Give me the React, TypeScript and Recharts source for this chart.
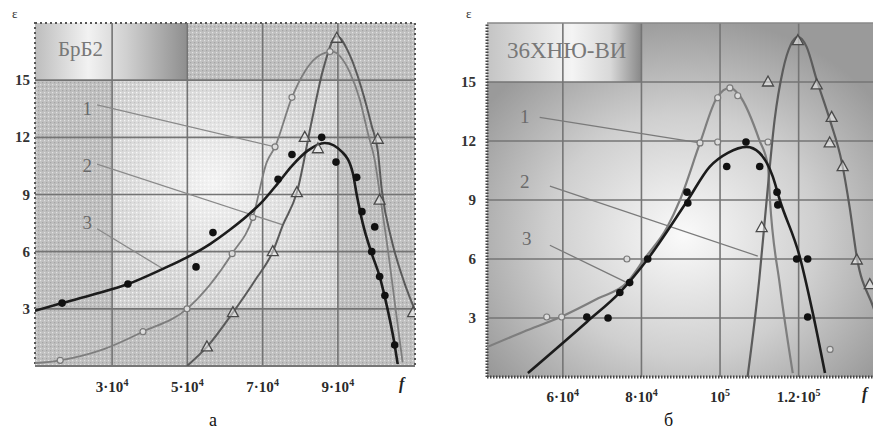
import React from 'react';
import { ComposedChart, Line, Scatter, XAxis, YAxis, ReferenceArea, ReferenceLine } from 'recharts';

// x values are in units of 10^4 (frequency), y is the measured value
// ---- panel а : БрБ2 ----
const aCurve1X = [0.95, 1.62, 2.8, 3.82, 4.99, 6.19, 6.74, 7.11, 7.33, 7.78, 8.44, 8.84, 9.32, 9.58, 9.8, 9.98, 10.11, 10.33, 10.54, 10.72];
const aCurve1Y = [0.15, 0.3, 0.9, 1.8, 3.0, 5.9, 7.8, 10.7, 11.5, 14.1, 16.2, 16.5, 15.4, 14.0, 12.2, 10.8, 9.1, 6.1, 2.9, 0.2];
const aCurve2X = [4.99, 5.52, 6.21, 6.8, 7.27, 7.54, 7.91, 8.31, 8.6, 8.97, 9.32, 9.64, 9.9, 10.06, 10.17, 10.43, 10.78, 11.1];
const aCurve2Y = [0, 1.0, 2.8, 4.5, 6.0, 7.4, 9.1, 12.9, 15.5, 17.3, 16.3, 14.5, 12.6, 11.3, 9.2, 6.6, 4.3, 2.7];
const aCurve3X = [0.95, 1.67, 2.5, 3.42, 4.35, 4.99, 5.6, 6.13, 6.6, 6.98, 7.41, 7.78, 8.2, 8.65, 9.13, 9.4, 9.5, 9.66, 9.9, 10.11, 10.25, 10.51, 10.59];
const aCurve3Y = [2.9, 3.3, 3.75, 4.3, 5.1, 5.7, 6.4, 7.15, 7.9, 8.6, 9.6, 10.5, 11.3, 11.7, 11.2, 10.1, 9.0, 7.5, 5.9, 4.7, 3.6, 1.1, 0.1];

const aCirclesX = [1.62, 3.82, 4.99, 6.19, 6.74, 7.33, 7.78, 8.79];
const aCirclesY = [0.3, 1.8, 3.0, 5.9, 7.8, 11.5, 14.1, 16.5];
const aTrianglesX = [5.52, 6.21, 7.27, 7.91, 8.12, 8.47, 8.97, 10.06, 10.11, 11.0];
const aTrianglesY = [1.0, 2.8, 6.0, 9.1, 12.0, 11.4, 17.2, 11.9, 8.7, 2.8];
const aDotsX = [1.67, 3.42, 5.23, 5.68, 7.41, 7.78, 8.57, 8.95, 9.5, 9.64, 9.98, 9.9, 10.11, 10.25, 10.51];
const aDotsY = [3.3, 4.3, 5.2, 7.0, 9.8, 11.1, 12.0, 10.7, 9.9, 8.1, 7.3, 6.0, 4.7, 3.7, 1.1];

const aLabelX = [2.34, 2.34, 2.34];
const aLabelY = [13.5, 10.5, 7.5];
const aLeaderFromX = [2.6, 2.6, 2.6];
const aLeaderFromY = [13.7, 10.6, 7.2];
const aLeaderToX = [7.33, 7.54, 4.35];
const aLeaderToY = [11.5, 7.4, 5.1];

const aTicks = [3, 5, 7, 9];
const aTickText = ['3·10', '5·10', '7·10', '9·10'];
const aTickPow = ['4', '4', '4', '4'];

// ---- panel б : 36ХНЮ-ВИ ----
const bCurve1X = [4.05, 5.0, 6.0, 6.9, 7.63, 8.09, 8.65, 8.98, 9.49, 9.92, 10.25, 10.5, 11.0, 11.22, 11.27, 11.52, 11.85];
const bCurve1Y = [1.5, 2.3, 3.1, 4.0, 4.8, 6.05, 7.6, 9.0, 11.9, 14.2, 14.7, 14.3, 12.05, 10.7, 9.0, 4.7, 0.2];
const bCurve2X = [10.7, 11.0, 11.2, 11.39, 11.6, 11.8, 11.98, 12.2, 12.46, 12.79, 13.1, 13.3, 13.48, 13.89, 14.1];
const bCurve2Y = [0, 5.0, 9.3, 13.1, 15.6, 16.9, 17.3, 16.8, 15.1, 13.1, 10.9, 8.6, 6.1, 3.6, 2.4];
const bCurve3X = [5.11, 6.61, 7.45, 8.16, 9.18, 9.74, 10.2, 10.68, 11.0, 11.34, 11.52, 12.03, 12.36, 12.67];
const bCurve3Y = [0.2, 2.8, 4.3, 6.0, 9.0, 10.7, 11.4, 11.7, 11.4, 10.2, 9.0, 6.1, 3.25, 0.2];

const bCirclesX = [5.59, 5.97, 7.63, 9.49, 9.94, 9.94, 10.25, 10.45, 11.22, 12.8];
const bCirclesY = [3.05, 3.05, 6.0, 11.9, 11.95, 14.2, 14.7, 14.3, 11.95, 1.4];
const bTrianglesX = [11.06, 11.22, 11.98, 12.46, 12.84, 12.79, 13.12, 13.48, 13.81];
const bTrianglesY = [7.6, 15.0, 17.1, 14.85, 13.2, 11.9, 10.7, 5.95, 4.7];
const bDotsX = [6.61, 7.15, 7.45, 7.7, 8.16, 9.16, 9.18, 10.17, 10.66, 11.01, 11.45, 11.47, 11.95, 12.23, 12.23];
const bDotsY = [3.05, 3.0, 4.3, 4.8, 6.0, 9.4, 8.85, 10.7, 11.95, 10.7, 9.4, 8.75, 6.0, 6.0, 3.05];

const bLabelX = [5.03, 5.03, 5.08];
const bLabelY = [13.2, 9.9, 7.0];
const bLeaderFromX = [5.41, 5.67, 5.67];
const bLeaderFromY = [13.2, 9.7, 6.7];
const bLeaderToX = [9.49, 10.96, 7.63];
const bLeaderToY = [11.9, 6.15, 4.8];

const bTicks = [6, 8, 10, 12];
const bTickText = ['6·10', '8·10', '10', '1.2·10'];
const bTickPow = ['4', '4', '5', '5'];

const yTicks = [3, 6, 9, 12, 15];

const zip = (xs: number[], ys: number[]) => xs.map((x, i) => ({ x, y: ys[i] }));

const SERIF = '"Liberation Serif", "DejaVu Serif", serif';

const Triangle = (props: any) => {
  const { cx, cy } = props;
  return (
    <path
      d={`M${cx},${cy - 6} L${cx + 5.5},${cy + 4} L${cx - 5.5},${cy + 4} Z`}
      fill="rgba(255,255,255,0.45)"
      stroke="#4a4a4a"
      strokeWidth={1.3}
    />
  );
};
const OpenCircle = (props: any) => (
  <circle cx={props.cx} cy={props.cy} r={3} fill="#dcdcdc" stroke="#7a7a7a" strokeWidth={1.2} />
);
const BlackDot = (props: any) => <circle cx={props.cx} cy={props.cy} r={3.8} fill="#111" />;
const NumLabel = (props: any) => (
  <text x={props.cx} y={props.cy} dy={6} textAnchor="middle" style={{ fontFamily: SERIF }} fontSize={19} fill="#6a6a6a">
    {props.payload.t}
  </text>
);

const makeTick = (ticks: number[], texts: string[], pows: string[], dy: number) => (props: any) => {
  const { x, y, payload } = props;
  const i = ticks.indexOf(payload.value);
  return (
    <text x={x} y={y + dy} textAnchor="middle" style={{ fontFamily: SERIF }} fontSize={15} fontWeight="bold" fill="#2a2a2a">
      {texts[i]}
      <tspan dy={-6} fontSize={10}>{pows[i]}</tspan>
    </text>
  );
};

const makeYTick = (dx: number) => (props: any) => (
  <text x={props.x + dx} y={props.y} dy={5} textAnchor="end" style={{ fontFamily: SERIF }} fontSize={15} fontWeight="bold" fill="#333">
    {props.payload.value}
  </text>
);

export default function App() {
  const aLabels = aLabelX.map((x, i) => ({ x, y: aLabelY[i], t: String(i + 1) }));
  const bLabels = bLabelX.map((x, i) => ({ x, y: bLabelY[i], t: String(i + 1) }));

  return (
    <div style={{ position: 'absolute', left: 0, top: 0, width: 873, height: 434, overflow: 'hidden', background: '#fff', fontFamily: SERIF }}>
      {/* panel а */}
      <div style={{ position: 'absolute', left: 0, top: 0 }}>
        <ComposedChart width={425} height={434} margin={{ top: 23, right: 10, bottom: 38, left: 0 }}>
          <defs>
            <pattern id="dotsA" width="4" height="4" patternUnits="userSpaceOnUse">
              <rect width="4" height="4" fill="#bfbfbf" />
              <rect x="0" y="0" width="1.2" height="1.2" fill="#e2e2e2" />
              <rect x="2" y="2" width="1.2" height="1.2" fill="#a4a4a4" />
            </pattern>
            <pattern id="dotsB" width="4" height="4" patternUnits="userSpaceOnUse">
              <rect width="4" height="4" fill="#d2d2d2" />
              <rect x="0" y="0" width="1.3" height="1.3" fill="#f6f6f6" />
              <rect x="2" y="2" width="1.2" height="1.2" fill="#bababa" />
            </pattern>
            <radialGradient id="glowA" cx="0.45" cy="0.45" r="0.55">
              <stop offset="0%" stopColor="#ffffff" stopOpacity={0.75} />
              <stop offset="100%" stopColor="#ffffff" stopOpacity={0} />
            </radialGradient>
            <linearGradient id="titleA" x1="0" y1="0" x2="1" y2="0">
              <stop offset="0%" stopColor="#bdbdbd" />
              <stop offset="35%" stopColor="#f2f2f2" />
              <stop offset="60%" stopColor="#d0d0d0" />
              <stop offset="100%" stopColor="#8e8e8e" />
            </linearGradient>
          </defs>
          <XAxis type="number" dataKey="x" domain={[0.95, 11.05]} allowDataOverflow ticks={aTicks}
            tick={makeTick(aTicks, aTickText, aTickPow, 24)} tickLine={false} axisLine={false} tickSize={0} height={30} />
          <YAxis type="number" dataKey="y" domain={[0, 18]} allowDataOverflow ticks={yTicks}
            tick={makeYTick(-3)} tickLine={false} axisLine={false} tickSize={0} width={35} />
          <ReferenceArea x1={0.95} x2={11.05} y1={0} y2={18} fill="url(#dotsA)" fillOpacity={1} stroke="none" />
          <ReferenceArea x1={3} x2={9} y1={3} y2={15} fill="url(#dotsB)" fillOpacity={1} stroke="none" />
          <ReferenceArea x1={3} x2={9} y1={3} y2={15} fill="url(#glowA)" fillOpacity={1} stroke="none" />
          <ReferenceArea x1={0.95} x2={5} y1={15} y2={18} fill="url(#titleA)" fillOpacity={1} stroke="none" />
          {yTicks.map(v => (
            <ReferenceLine key={'ha' + v} y={v} stroke="#747474" strokeWidth={1.6} />
          ))}
          {aTicks.map(v => (
            <ReferenceLine key={'va' + v} x={v} stroke="#747474" strokeWidth={1.6} />
          ))}
          <ReferenceArea x1={0.95} x2={11.05} y1={0} y2={18} fill="none" stroke="#555" strokeWidth={2} strokeDasharray="2 3" />
          <ReferenceLine y={0} stroke="#777" strokeWidth={2} />
          {aLeaderFromX.map((x, i) => (
            <ReferenceLine key={'la' + i} segment={[{ x, y: aLeaderFromY[i] }, { x: aLeaderToX[i], y: aLeaderToY[i] }]} stroke="#8a8a8a" strokeWidth={1.3} />
          ))}
          <Line data={zip(aCurve1X, aCurve1Y)} dataKey="y" type="monotone" stroke="#7e7e7e" strokeWidth={1.8} dot={false} isAnimationActive={false} />
          <Line data={zip(aCurve2X, aCurve2Y)} dataKey="y" type="monotone" stroke="#5a5a5a" strokeWidth={2} dot={false} isAnimationActive={false} />
          <Line data={zip(aCurve3X, aCurve3Y)} dataKey="y" type="monotone" stroke="#1c1c1c" strokeWidth={2.6} dot={false} isAnimationActive={false} />
          <Scatter data={zip(aCirclesX, aCirclesY)} shape={OpenCircle} isAnimationActive={false} />
          <Scatter data={zip(aTrianglesX, aTrianglesY)} shape={Triangle} isAnimationActive={false} />
          <Scatter data={zip(aDotsX, aDotsY)} shape={BlackDot} isAnimationActive={false} />
          <Scatter data={aLabels} shape={NumLabel} isAnimationActive={false} />
        </ComposedChart>
      </div>

      {/* panel б */}
      <div style={{ position: 'absolute', left: 440, top: 0 }}>
        <ComposedChart width={450} height={434} margin={{ top: 23, right: 10, bottom: 27, left: 0 }}>
          <defs>
            <radialGradient id="bgB" cx="0.5" cy="0.6" r="0.62">
              <stop offset="0%" stopColor="#fafafa" />
              <stop offset="55%" stopColor="#cfcfcf" />
              <stop offset="100%" stopColor="#9a9a9a" />
            </radialGradient>
            <linearGradient id="titleB" x1="0" y1="0" x2="1" y2="0">
              <stop offset="0%" stopColor="#c4c4c4" />
              <stop offset="55%" stopColor="#f4f4f4" />
              <stop offset="80%" stopColor="#d8d8d8" />
              <stop offset="100%" stopColor="#888" />
            </linearGradient>
          </defs>
          <XAxis type="number" dataKey="x" domain={[4.07, 14.07]} allowDataOverflow ticks={bTicks}
            tick={makeTick(bTicks, bTickText, bTickPow, 23)} tickLine={false} axisLine={false} tickSize={0} height={30} />
          <YAxis type="number" dataKey="y" domain={[0, 18]} allowDataOverflow ticks={yTicks}
            tick={makeYTick(-9)} tickLine={false} axisLine={false} tickSize={0} width={47} />
          <ReferenceArea x1={4.07} x2={14.07} y1={0} y2={18} fill="url(#bgB)" fillOpacity={1} stroke="none" />
          <ReferenceArea x1={4.07} x2={8} y1={15} y2={18} fill="url(#titleB)" fillOpacity={1} stroke="none" />
          {yTicks.map(v => (
            <ReferenceLine key={'hb' + v} y={v} stroke="#757575" strokeWidth={1.6} />
          ))}
          {bTicks.map(v => (
            <ReferenceLine key={'vb' + v} x={v} stroke="#757575" strokeWidth={1.6} />
          ))}
          <ReferenceLine x={4.07} stroke="#444" strokeWidth={3} strokeDasharray="1.5 1.5" />
          <ReferenceLine y={0} stroke="#444" strokeWidth={3} strokeDasharray="1.5 1.5" />
          <ReferenceLine y={18} stroke="#888" strokeWidth={1.5} />
          {bLeaderFromX.map((x, i) => (
            <ReferenceLine key={'lb' + i} segment={[{ x, y: bLeaderFromY[i] }, { x: bLeaderToX[i], y: bLeaderToY[i] }]} stroke="#7a7a7a" strokeWidth={1.3} />
          ))}
          <Line data={zip(bCurve1X, bCurve1Y)} dataKey="y" type="monotone" stroke="#7e7e7e" strokeWidth={2.2} dot={false} isAnimationActive={false} />
          <Line data={zip(bCurve2X, bCurve2Y)} dataKey="y" type="monotone" stroke="#5c5c5c" strokeWidth={2.2} dot={false} isAnimationActive={false} />
          <Line data={zip(bCurve3X, bCurve3Y)} dataKey="y" type="monotone" stroke="#1c1c1c" strokeWidth={2.6} dot={false} isAnimationActive={false} />
          <Scatter data={zip(bCirclesX, bCirclesY)} shape={OpenCircle} isAnimationActive={false} />
          <Scatter data={zip(bTrianglesX, bTrianglesY)} shape={Triangle} isAnimationActive={false} />
          <Scatter data={zip(bDotsX, bDotsY)} shape={BlackDot} isAnimationActive={false} />
          <Scatter data={bLabels} shape={NumLabel} isAnimationActive={false} />
        </ComposedChart>
      </div>

      {/* panel titles */}
      <div style={{ position: 'absolute', left: 58, top: 36, fontSize: 21, lineHeight: '26px', color: '#787878', fontFamily: SERIF }}>БрБ2</div>
      <div style={{ position: 'absolute', left: 507, top: 37, fontSize: 23, lineHeight: '28px', color: '#787878', fontFamily: SERIF }}>36ХНЮ-ВИ</div>

      <div style={{ position: 'absolute', left: 12, top: 6, fontSize: 13, color: '#333' }}>ε</div>
      <div style={{ position: 'absolute', left: 466, top: 6, fontSize: 13, color: '#333' }}>ε</div>
      <div style={{ position: 'absolute', left: 399, top: 375, fontSize: 16, fontWeight: 'bold', color: '#222', fontStyle: 'italic' }}>f</div>
      <div style={{ position: 'absolute', left: 862, top: 385, fontSize: 16, fontWeight: 'bold', color: '#222', fontStyle: 'italic' }}>f</div>
      <div style={{ position: 'absolute', left: 209, top: 410, fontSize: 18, color: '#111' }}>а</div>
      <div style={{ position: 'absolute', left: 664, top: 410, fontSize: 18, color: '#111' }}>б</div>
    </div>
  );
}
